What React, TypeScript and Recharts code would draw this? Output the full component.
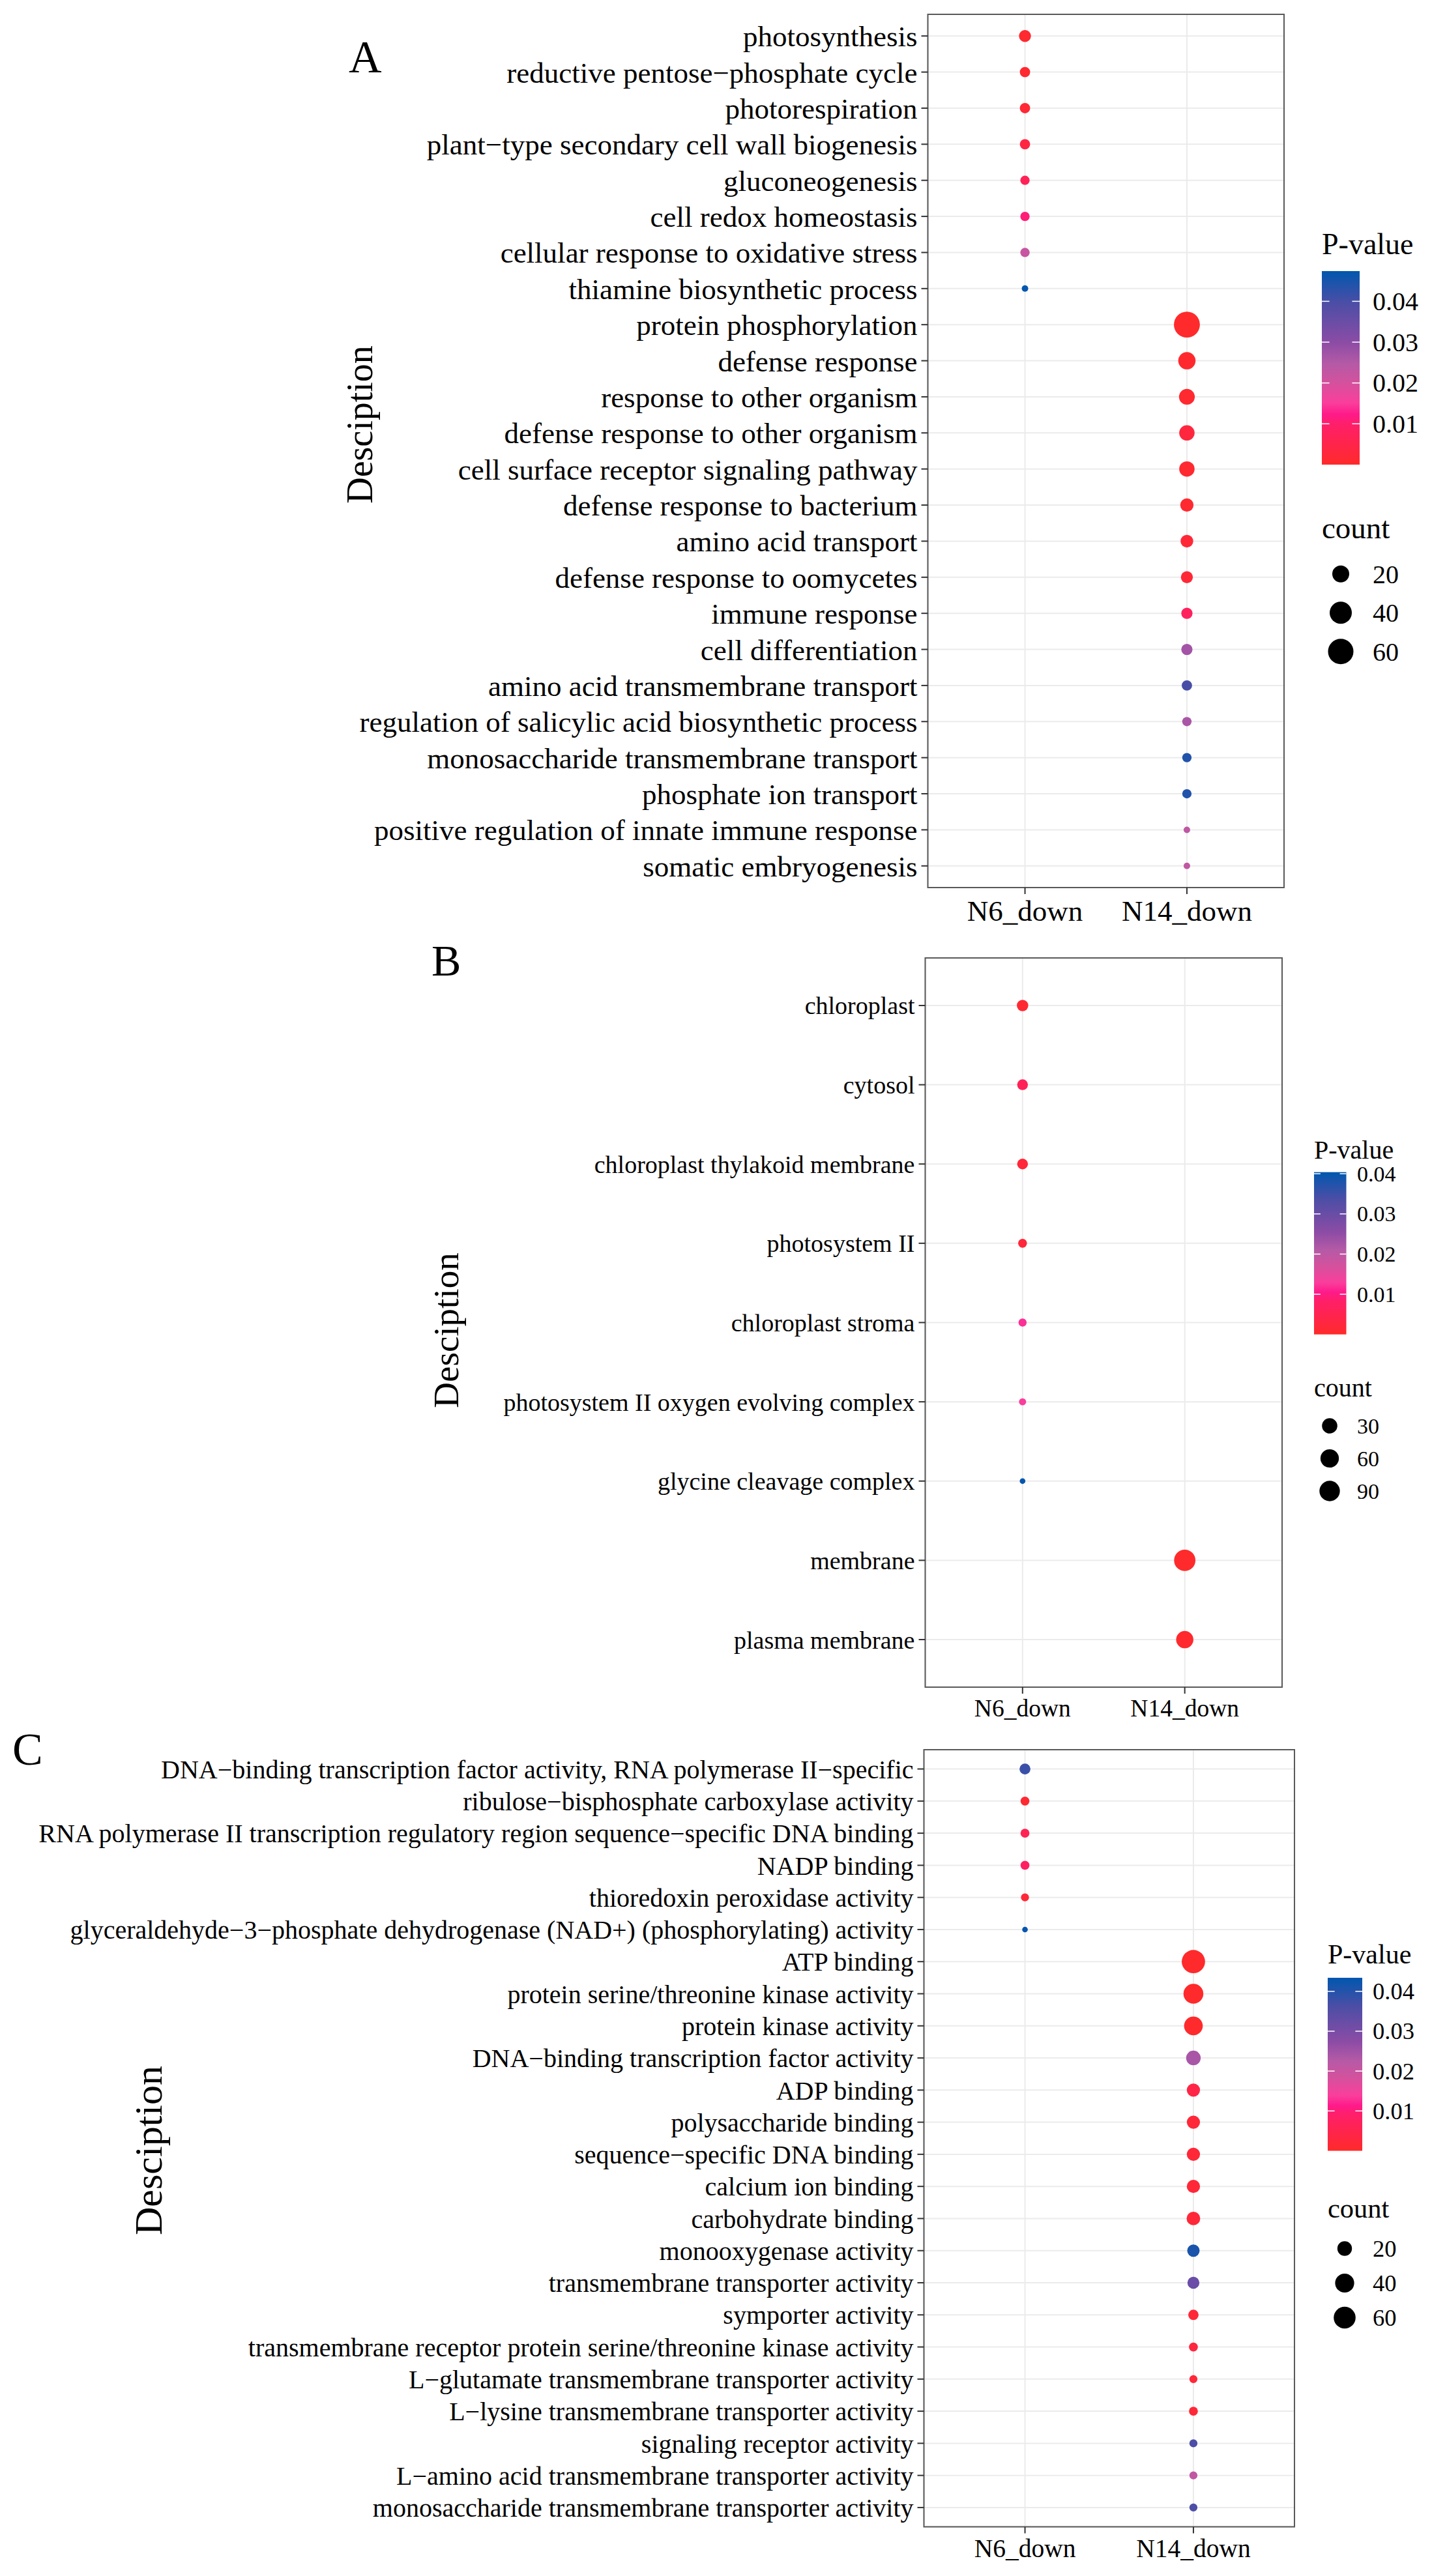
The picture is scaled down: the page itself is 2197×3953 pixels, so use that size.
import React from 'react';
import {
  ScatterChart,
  Scatter,
  XAxis,
  YAxis,
  ZAxis,
  CartesianGrid,
  ReferenceArea,
  Cell,
} from 'recharts';

const SERIF = '"Liberation Serif", "Times New Roman", serif';
const GROUPS = ['N6_down', 'N14_down'];
const P_TICKS = [0.01, 0.02, 0.03, 0.04];

// Panel A - biological process
const termsA = [
  'photosynthesis',
  'reductive pentose−phosphate cycle',
  'photorespiration',
  'plant−type secondary cell wall biogenesis',
  'gluconeogenesis',
  'cell redox homeostasis',
  'cellular response to oxidative stress',
  'thiamine biosynthetic process',
  'protein phosphorylation',
  'defense response',
  'response to other organism',
  'defense response to other organism',
  'cell surface receptor signaling pathway',
  'defense response to bacterium',
  'amino acid transport',
  'defense response to oomycetes',
  'immune response',
  'cell differentiation',
  'amino acid transmembrane transport',
  'regulation of salicylic acid biosynthetic process',
  'monosaccharide transmembrane transport',
  'phosphate ion transport',
  'positive regulation of innate immune response',
  'somatic embryogenesis',
];
const groupA = [0, 0, 0, 0, 0, 0, 0, 0, 1, 1, 1, 1, 1, 1, 1, 1, 1, 1, 1, 1, 1, 1, 1, 1];
const countA = [10, 8, 8, 8, 7, 7, 7, 5, 64, 21, 17, 16, 16, 12, 11, 10, 9, 9, 8, 7, 7, 7, 5, 5];
const pvalA = [
  0.001, 0.001, 0.0015, 0.004, 0.007, 0.011, 0.022, 0.047,
  0.0001, 0.0005, 0.001, 0.003, 0.001, 0.001, 0.002, 0.002,
  0.008, 0.027, 0.04, 0.026, 0.044, 0.044, 0.023, 0.023,
];
const keysA = [20, 40, 60];

// Panel B - cellular component
const termsB = [
  'chloroplast',
  'cytosol',
  'chloroplast thylakoid membrane',
  'photosystem II',
  'chloroplast stroma',
  'photosystem II oxygen evolving complex',
  'glycine cleavage complex',
  'membrane',
  'plasma membrane',
];
const groupB = [0, 0, 0, 0, 0, 0, 0, 1, 1];
const countB = [10, 8, 8, 4, 3, 2, 1, 106, 47];
const pvalB = [0.001, 0.006, 0.002, 0.002, 0.012, 0.013, 0.04, 0.0001, 0.0005];
const keysB = [30, 60, 90];

// Panel C - molecular function
const termsC = [
  'DNA−binding transcription factor activity, RNA polymerase II−specific',
  'ribulose−bisphosphate carboxylase activity',
  'RNA polymerase II transcription regulatory region sequence−specific DNA binding',
  'NADP binding',
  'thioredoxin peroxidase activity',
  'glyceraldehyde−3−phosphate dehydrogenase (NAD+) (phosphorylating) activity',
  'ATP binding',
  'protein serine/threonine kinase activity',
  'protein kinase activity',
  'DNA−binding transcription factor activity',
  'ADP binding',
  'polysaccharide binding',
  'sequence−specific DNA binding',
  'calcium ion binding',
  'carbohydrate binding',
  'monooxygenase activity',
  'transmembrane transporter activity',
  'symporter activity',
  'transmembrane receptor protein serine/threonine kinase activity',
  'L−glutamate transmembrane transporter activity',
  'L−lysine transmembrane transporter activity',
  'signaling receptor activity',
  'L−amino acid transmembrane transporter activity',
  'monosaccharide transmembrane transporter activity',
];
const groupC = [0, 0, 0, 0, 0, 0, 1, 1, 1, 1, 1, 1, 1, 1, 1, 1, 1, 1, 1, 1, 1, 1, 1, 1];
const countC = [11, 8, 8, 8, 7, 5, 73, 45, 38, 20, 16, 16, 16, 16, 17, 14, 13, 10, 8, 7, 8, 7, 7, 7];
const pvalC = [
  0.038, 0.001, 0.006, 0.008, 0.002, 0.043,
  0.0001, 0.0002, 0.0003, 0.024, 0.004, 0.002,
  0.002, 0.002, 0.002, 0.041, 0.032, 0.002,
  0.003, 0.002, 0.002, 0.036, 0.021, 0.036,
];
const keysC = [20, 40, 60];

// colour bar: fraction of the p-value range -> colour
const STOPS: [number, string][] = [
  [0, '#FF2A2A'],
  [0.21, '#FF1F6A'],
  [0.26, '#FF1A8A'],
  [0.32, '#FA3E9C'],
  [0.42, '#D5519D'],
  [0.52, '#B55AA6'],
  [0.63, '#8C4CA5'],
  [0.84, '#4A4EA6'],
  [1, '#0057AE'],
];

function hexRgb(h: string) {
  return [1, 3, 5].map(i => parseInt(h.slice(i, i + 2), 16));
}

function pColor(p: number, pMax: number) {
  const t = Math.min(1, Math.max(0, p / pMax));
  for (let i = 1; i < STOPS.length; i++) {
    const [t1, c1] = STOPS[i];
    const [t0, c0] = STOPS[i - 1];
    if (t <= t1) {
      const f = (t - t0) / (t1 - t0);
      const a = hexRgb(c0);
      const b = hexRgb(c1);
      const c = a.map((v, k) => Math.round(v + (b[k] - v) * f));
      return `rgb(${c[0]},${c[1]},${c[2]})`;
    }
  }
  return STOPS[STOPS.length - 1][1];
}

const PANELS = [
  {
    id: 'A',
    terms: termsA, group: groupA, count: countA, pval: pvalA, keys: keysA,
    box: { left: 1423.5, top: 22, right: 1970, bottom: 1362 },
    tickFont: 45, xFont: 45, xTickMargin: 9,
    zDomain: [4, 81], zRange: [30, 1449], pMax: 0.0474,
    letter: { x: 535, y: 111, size: 70 },
    axisTitle: { x: 571, y: 651.5, size: 56 },
    legendX: 2028,
    barTitle: { y: 390, size: 46 },
    bar: { y: 416, w: 58, h: 297 },
    barFont: 40, barLabelX: 2106,
    countTitle: { y: 826, size: 47 },
    keyCx: 2057, keyY: 881, keyStep: 59.5, keyLabelX: 2106, keyFont: 40,
  },
  {
    id: 'B',
    terms: termsB, group: groupB, count: countB, pval: pvalB, keys: keysB,
    box: { left: 1419.5, top: 1470, right: 1967, bottom: 2589 },
    tickFont: 38, xFont: 37.5, xTickMargin: 8,
    zDomain: [1, 121], zRange: [60, 900], pMax: 0.0404,
    letter: { x: 662, y: 1497, size: 68 },
    axisTitle: { x: 703, y: 2041.5, size: 55 },
    legendX: 2016,
    barTitle: { y: 1778, size: 40 },
    bar: { y: 1798.7, w: 49.5, h: 249 },
    barFont: 34, barLabelX: 2082,
    countTitle: { y: 2143, size: 40 },
    keyCx: 2040, keyY: 2188, keyStep: 50, keyLabelX: 2082, keyFont: 34,
  },
  {
    id: 'C',
    terms: termsC, group: groupC, count: countC, pval: pvalC, keys: keysC,
    box: { left: 1417.5, top: 2685, right: 1986, bottom: 3877.5 },
    tickFont: 40, xFont: 39.5, xTickMargin: 8,
    zDomain: [4, 81], zRange: [23, 1073], pMax: 0.0434,
    letter: { x: 19, y: 2708, size: 70 },
    axisTitle: { x: 248, y: 3300, size: 60 },
    legendX: 2037,
    barTitle: { y: 3013, size: 42 },
    bar: { y: 3035, w: 53, h: 265.5 },
    barFont: 36.5, barLabelX: 2106,
    countTitle: { y: 3402.5, size: 42.5 },
    keyCx: 2063, keyY: 3450, keyStep: 53, keyLabelX: 2106, keyFont: 36.5,
  },
];

type Panel = (typeof PANELS)[number];

function DotPanel({ cfg }: { cfg: Panel }) {
  const n = cfg.terms.length;
  const data = cfg.terms.map((t, i) => ({
    x: cfg.group[i],
    y: i,
    z: cfg.count[i],
    p: cfg.pval[i],
  }));
  const topPad = 10;
  const xAxisH = 90;
  const width = cfg.box.right + 20;
  const height = topPad + (cfg.box.bottom - cfg.box.top) + xAxisH;
  const rows = cfg.terms.map((_, i) => i);

  return (
    <div style={{ position: 'absolute', left: 0, top: cfg.box.top - topPad }}>
      <ScatterChart
        width={width}
        height={height}
        margin={{ top: topPad, right: 20, bottom: 0, left: 0 }}
      >
        <CartesianGrid stroke="#EBEBEB" strokeWidth={2} />
        <XAxis
          type="number"
          dataKey="x"
          domain={[-0.6, 1.6]}
          ticks={[0, 1]}
          interval={0}
          allowDataOverflow
          tickFormatter={(v: number) => GROUPS[v]}
          height={xAxisH}
          axisLine={false}
          tickLine={{ stroke: '#333333', strokeWidth: 2 }}
          tickSize={10}
          tickMargin={cfg.xTickMargin}
          tick={{ fontSize: cfg.xFont, fontFamily: SERIF, fill: '#000' }}
        />
        <YAxis
          type="number"
          dataKey="y"
          domain={[-0.6, n - 0.4]}
          ticks={rows}
          interval={0}
          reversed
          allowDataOverflow
          tickFormatter={(v: number) => cfg.terms[v]}
          width={cfg.box.left}
          axisLine={false}
          tickLine={{ stroke: '#333333', strokeWidth: 2 }}
          tickSize={10}
          tickMargin={6}
          tick={{ fontSize: cfg.tickFont, fontFamily: SERIF, fill: '#000' }}
        />
        <ZAxis type="number" dataKey="z" scale="sqrt" domain={cfg.zDomain} range={cfg.zRange} />
        <Scatter data={data} isAnimationActive={false}>
          {data.map((d, i) => (
            <Cell key={`pt-${i}`} fill={pColor(d.p, cfg.pMax)} />
          ))}
        </Scatter>
        <ReferenceArea
          x1={-0.6}
          x2={1.6}
          y1={-0.6}
          y2={n - 0.4}
          fill="none"
          stroke="#595959"
          strokeWidth={2}
          ifOverflow="visible"
        />
      </ScatterChart>
    </div>
  );
}

function CountLegend({ cfg }: { cfg: Panel }) {
  const keyW = 60;
  const labelW = 120;
  const left = cfg.keyCx - keyW / 2;
  const keyData = cfg.keys.map((k, i) => ({ x: 0.5, y: i, z: k }));
  return (
    <div style={{ position: 'absolute', left, top: cfg.keyY - cfg.keyStep / 2 }}>
      <ScatterChart
        width={keyW + labelW}
        height={cfg.keyStep * 3}
        margin={{ top: 0, right: 0, bottom: 0, left: 0 }}
      >
        <XAxis type="number" dataKey="x" domain={[0, 1]} hide />
        <YAxis
          type="number"
          dataKey="y"
          orientation="right"
          domain={[-0.5, 2.5]}
          ticks={[0, 1, 2]}
          interval={0}
          reversed
          width={labelW}
          axisLine={false}
          tickLine={false}
          tickSize={0}
          tickMargin={cfg.keyLabelX - (left + keyW)}
          tickFormatter={(v: number) => String(cfg.keys[v])}
          tick={{ fontSize: cfg.keyFont, fontFamily: SERIF, fill: '#000' }}
        />
        <ZAxis type="number" dataKey="z" scale="sqrt" domain={cfg.zDomain} range={cfg.zRange} />
        <Scatter data={keyData} fill="#000000" isAnimationActive={false} />
      </ScatterChart>
    </div>
  );
}

function Overlay() {
  return (
    <svg
      width={2197}
      height={3953}
      style={{ position: 'absolute', left: 0, top: 0, pointerEvents: 'none' }}
      fontFamily={SERIF}
    >
      <defs>
        <linearGradient id="pgrad" x1="0" y1="1" x2="0" y2="0">
          {STOPS.map(([t, c]) => (
            <stop key={t} offset={t} stopColor={c} />
          ))}
        </linearGradient>
      </defs>
      {PANELS.map(cfg => {
        const b = cfg.bar;
        const bx = cfg.legendX;
        const yOf = (p: number) => b.y + b.h - (p / cfg.pMax) * b.h;
        return (
          <g key={cfg.id}>
            <text x={cfg.letter.x} y={cfg.letter.y} fontSize={cfg.letter.size} fill="#000">
              {cfg.id}
            </text>
            <text
              transform={`translate(${cfg.axisTitle.x},${cfg.axisTitle.y}) rotate(-90)`}
              textAnchor="middle"
              fontSize={cfg.axisTitle.size}
              fill="#000"
            >
              Desciption
            </text>
            <text x={cfg.legendX} y={cfg.barTitle.y} fontSize={cfg.barTitle.size} fill="#000">
              P-value
            </text>
            <rect x={bx} y={b.y} width={b.w} height={b.h} fill="url(#pgrad)" />
            {P_TICKS.map(p => (
              <g key={p}>
                <line x1={bx} x2={bx + b.w / 5} y1={yOf(p)} y2={yOf(p)} stroke="#fff" strokeWidth={1.5} />
                <line x1={bx + b.w - b.w / 5} x2={bx + b.w} y1={yOf(p)} y2={yOf(p)} stroke="#fff" strokeWidth={1.5} />
                <text x={cfg.barLabelX} y={yOf(p) + cfg.barFont * 0.34} fontSize={cfg.barFont} fill="#000">
                  {p.toFixed(2)}
                </text>
              </g>
            ))}
            <text x={cfg.legendX} y={cfg.countTitle.y} fontSize={cfg.countTitle.size} fill="#000">
              count
            </text>
          </g>
        );
      })}
    </svg>
  );
}

export default function App() {
  return (
    <div
      style={{
        position: 'absolute',
        left: 0,
        top: 0,
        width: 2197,
        height: 3953,
        background: '#fff',
        overflow: 'hidden',
      }}
    >
      {PANELS.map(cfg => (
        <DotPanel key={cfg.id} cfg={cfg} />
      ))}
      {PANELS.map(cfg => (
        <CountLegend key={`k-${cfg.id}`} cfg={cfg} />
      ))}
      <Overlay />
    </div>
  );
}
